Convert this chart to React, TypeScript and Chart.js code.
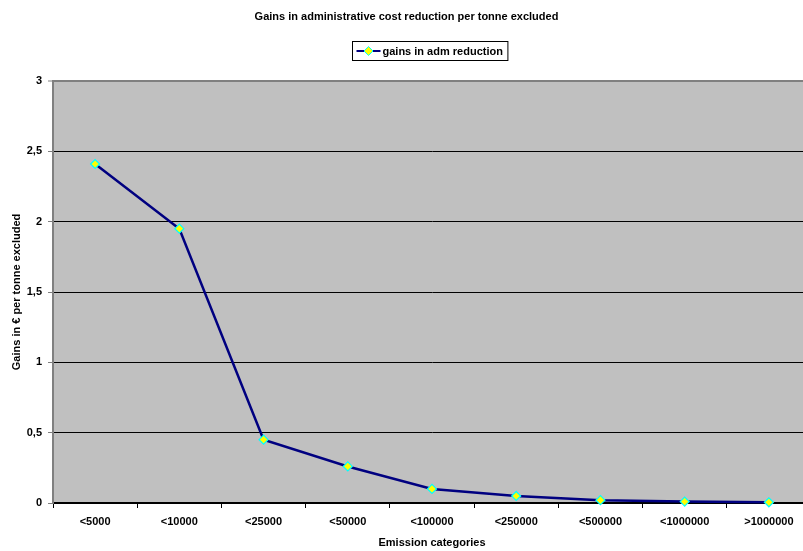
import { useEffect, useRef } from "react";
import { Chart, registerables } from "chart.js";

Chart.register(...registerables);

// Emission categories and the administrative-cost gain per tonne excluded (€)
const categories = ["<5000", "<10000", "<25000", "<50000", "<100000", "<250000", "<500000", "<1000000", ">1000000"];
const gains = [2.41, 1.95, 0.45, 0.26, 0.1, 0.05, 0.02, 0.01, 0.005];

const yMin = 0;
const yMax = 3;
const yStep = 0.5;

const chartTitle = "Gains in administrative cost reduction per tonne excluded";
const seriesName = "gains in adm reduction";
const xTitle = "Emission categories";
const yTitle = "Gains in € per tonne excluded";

const FONT = "'Liberation Sans', Arial, sans-serif";
const LINE_COLOR = "#000080";
const MARKER_FILL = "#FFFF00";
const MARKER_EDGE = "#00FFFF";
const PLOT_BG = "#C0C0C0";

// The plot runs a little past the visible frame on the right
const VIEW_W = 803;
const VIEW_H = 551;
const CANVAS_W = 811;

// Grey plot area behind the series
const plotBackground = {
  id: "plotBackground",
  beforeDraw(chart: any) {
    const { ctx, chartArea } = chart;
    ctx.save();
    ctx.fillStyle = PLOT_BG;
    ctx.fillRect(chartArea.left, chartArea.top, chartArea.right - chartArea.left, chartArea.bottom - chartArea.top);
    ctx.restore();
  },
};

// Title and boxed legend above the plot
const header = {
  id: "header",
  afterDraw(chart: any) {
    const { ctx } = chart;
    ctx.save();
    ctx.fillStyle = "#000";
    ctx.font = `bold 11px ${FONT}`;
    ctx.textAlign = "center";
    ctx.textBaseline = "middle";
    ctx.fillText(chartTitle, VIEW_W / 2 + 5, 17);

    // legend
    const textW = ctx.measureText(seriesName).width;
    const boxW = 30 + textW + 5;
    const boxH = 19;
    const cx = 430;
    const bx = Math.round(cx - boxW / 2) + 0.5;
    const by = 41.5;
    ctx.fillStyle = "#fff";
    ctx.fillRect(bx, by, boxW, boxH);
    ctx.strokeStyle = "#000";
    ctx.lineWidth = 1;
    ctx.strokeRect(bx, by, boxW, boxH);

    const my = by + boxH / 2;
    ctx.strokeStyle = LINE_COLOR;
    ctx.lineWidth = 2;
    ctx.beginPath();
    ctx.moveTo(bx + 4, my);
    ctx.lineTo(bx + 28, my);
    ctx.stroke();

    const mx = bx + 16;
    const r = 4.5;
    ctx.beginPath();
    ctx.moveTo(mx - r, my);
    ctx.lineTo(mx, my - r);
    ctx.lineTo(mx + r, my);
    ctx.lineTo(mx, my + r);
    ctx.closePath();
    ctx.fillStyle = MARKER_FILL;
    ctx.fill();
    ctx.strokeStyle = MARKER_EDGE;
    ctx.lineWidth = 1;
    ctx.stroke();

    ctx.fillStyle = "#000";
    ctx.textAlign = "left";
    ctx.fillText(seriesName, bx + 30, my + 0.5);
    ctx.restore();
  },
};

export default function App() {
  const canvasRef = useRef<HTMLCanvasElement | null>(null);

  useEffect(() => {
    if (!canvasRef.current) return;
    const chart = new Chart(canvasRef.current, {
      type: "line",
      data: {
        labels: categories,
        datasets: [
          {
            label: seriesName,
            data: gains,
            borderColor: LINE_COLOR,
            borderWidth: 2.5,
            pointStyle: "rectRot",
            pointRadius: 4.5,
            pointHoverRadius: 4.5,
            pointBackgroundColor: MARKER_FILL,
            pointBorderColor: MARKER_EDGE,
            pointBorderWidth: 1.2,
            tension: 0,
            fill: false,
            clip: false,
          },
        ],
      },
      options: {
        responsive: false,
        animation: false,
        layout: { autoPadding: false, padding: { top: 81, right: 0, bottom: 0, left: 0 } },
        plugins: {
          legend: { display: false },
          title: { display: false },
          tooltip: { enabled: false },
        },
        scales: {
          x: {
            type: "category",
            offset: true,
            grid: {
              offset: true,
              drawOnChartArea: false,
              drawTicks: true,
              tickLength: 5,
              color: "#000",
            },
            border: { color: "#000", width: 2 },
            ticks: {
              color: "#000",
              font: { family: FONT, size: 11, weight: "bold" },
              padding: 7,
              maxRotation: 0,
              autoSkip: false,
            },
            title: {
              display: true,
              text: xTitle,
              color: "#000",
              font: { family: FONT, size: 11, weight: "bold" },
              padding: { top: 0, bottom: 1 },
            },
            afterFit(scale: any) {
              scale.height = 48;
              scale.paddingLeft = 0;
              scale.paddingRight = 0;
            },
          },
          y: {
            min: yMin,
            max: yMax,
            grid: {
              color: (ctx: any) => (ctx.tick && ctx.tick.value === yMax ? "#808080" : "#000"),
              lineWidth: (ctx: any) => (ctx.tick && ctx.tick.value === yMax ? 2 : 1),
              drawTicks: true,
              tickLength: 5,
              tickColor: "#808080",
              tickWidth: 1,
            },
            border: { color: "#808080", width: 2 },
            ticks: {
              stepSize: yStep,
              color: "#000",
              font: { family: FONT, size: 11, weight: "bold" },
              padding: 6,
              callback: (v: any) => String(v).replace(".", ","),
            },
            title: {
              display: true,
              text: yTitle,
              color: "#000",
              font: { family: FONT, size: 11, weight: "bold" },
              padding: { top: 10, bottom: 0 },
            },
            afterFit(scale: any) {
              scale.width = 53;
            },
          },
        },
      },
      plugins: [plotBackground, header],
    });
    return () => chart.destroy();
  }, []);

  return (
    <div
      style={{
        position: "absolute",
        left: 0,
        top: 0,
        width: VIEW_W,
        height: VIEW_H,
        background: "#fff",
        overflow: "hidden",
      }}
    >
      <canvas ref={canvasRef} width={CANVAS_W} height={VIEW_H} style={{ display: "block" }} />
    </div>
  );
}
